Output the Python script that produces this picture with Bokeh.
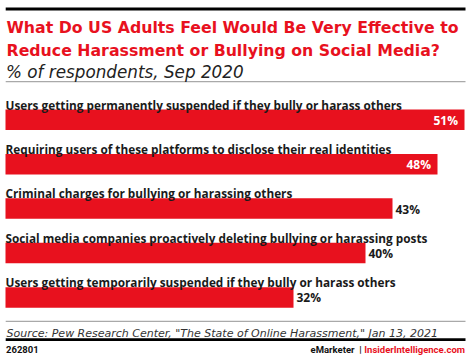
from bokeh.plotting import figure
from bokeh.models import Range1d
from bokeh.core.properties import value
from bokeh.embed import file_html
from bokeh.resources import INLINE

# ---- data ----
title_lines = ["What Do US Adults Feel Would Be Very Effective to",
               "Reduce Harassment or Bullying on Social Media?"]
subtitle = "% of respondents, Sep 2020"
categories = [
    "Users getting permanently suspended if they bully or harass others",
    "Requiring users of these platforms to disclose their real identities",
    "Criminal charges for bullying or harassing others",
    "Social media companies proactively deleting bullying or harassing posts",
    "Users getting temporarily suspended if they bully or harass others",
]
values = [51, 48, 43, 40, 32]
source = 'Source: Pew Research Center, "The State of Online Harassment," Jan 13, 2021'
chart_id = "262801"
brand_left = "eMarketer"
brand_right = "InsiderIntelligence.com"

# ---- layout / style ----
W, H = 470, 359
X0 = 5.0                      # pixel column where 0% sits
PX_PER_PCT = (464 - X0) / 51.0
RED = "#E8111E"
BAR0, STEP, BAR_H = 119.3, 44.4, 20.5
INSIDE_MIN = 45


def px(x):
    """pixel column -> data x"""
    return (x - X0) / PX_PER_PCT


XL, XR = px(0), px(W)
LEFT_EDGE, RIGHT_EDGE = px(5.2), px(465)

p = figure(width=W, height=H, x_range=Range1d(XL, XR), y_range=Range1d(H, 0),
           output_backend="svg", toolbar_location=None,
           x_axis_location=None, y_axis_location=None,
           min_border=0, outline_line_color=None,
           background_fill_color="white", border_fill_color="white")
p.grid.visible = False
p.title.visible = False

# horizontal rules: heavy black at top and above footer, thin grey below subtitle and above source
p.quad(left=[LEFT_EDGE] * 2, right=[RIGHT_EDGE] * 2, top=[7.0, 337.8], bottom=[10.0, 340.6],
       fill_color="black", fill_alpha=1.0, line_color=None)
p.quad(left=[LEFT_EDGE] * 2, right=[RIGHT_EDGE] * 2, top=[80.6, 320.2], bottom=[81.8, 321.4],
       fill_color="darkgray", fill_alpha=1.0, line_color=None)

# title & subtitle
p.text(x=[px(6), px(6)], y=[27.3, 50.0], text=title_lines, text_font=value("DejaVu Sans"),
       text_font_style="bold", text_font_size="15.75px", text_color=RED,
       text_baseline="alphabetic", text_align="left")
p.text(x=[px(5.5)], y=[71.3], text=[subtitle], text_font=value("DejaVu Sans"),
       text_font_style="italic", text_font_size="16.8px", text_color="#222222",
       text_baseline="alphabetic", text_align="left")

# bars
bar_y = [BAR0 + i * STEP for i in range(len(values))]
p.hbar(y=bar_y, left=0, right=values, height=BAR_H, fill_color=RED, line_color=None)

# category labels
p.text(x=[px(5)] * len(categories), y=[y - 15.3 for y in bar_y], text=categories,
       text_font=value("Open Sans"), text_font_style="bold", text_font_size="11.8px",
       text_color="#1a1a1a", text_baseline="alphabetic", text_align="left")

# value labels
ins = [i for i, v in enumerate(values) if v >= INSIDE_MIN]
outs = [i for i, v in enumerate(values) if v < INSIDE_MIN]
p.text(x=[values[i] - 6.5 / PX_PER_PCT for i in ins], y=[bar_y[i] + 0.5 for i in ins],
       text=[f"{values[i]}%" for i in ins], text_font=value("Open Sans"), text_font_style="bold",
       text_font_size="12px", text_color="white", text_baseline="middle", text_align="right")
p.text(x=[values[i] + 3 / PX_PER_PCT for i in outs], y=[bar_y[i] + 0.5 for i in outs],
       text=[f"{values[i]}%" for i in outs], text_font=value("Open Sans"), text_font_style="bold",
       text_font_size="12px", text_color="#1a1a1a", text_baseline="middle", text_align="left")

# source & footer
p.text(x=[px(6)], y=[332.7], text=[source], text_font=value("DejaVu Sans"),
       text_font_style="italic", text_font_size="11px", text_color="#333333",
       text_baseline="alphabetic", text_align="left")
p.text(x=[px(5.5)], y=[348.7], text=[chart_id], text_font=value("Roboto"),
       text_font_style="bold", text_font_size="9.5px", text_color="#111111",
       text_baseline="alphabetic", text_align="left")
p.text(x=[px(354)], y=[348.7], text=[brand_left], text_font=value("Roboto"),
       text_font_style="bold", text_font_size="9.5px", text_color="#111111",
       text_baseline="alphabetic", text_align="right")
p.text(x=[px(360)], y=[348.9], text=["|"], text_font=value("Roboto"),
       text_font_style="bold", text_font_size="9.5px", text_color="#111111",
       text_baseline="alphabetic", text_align="center")
p.text(x=[px(464.5)], y=[348.7], text=[brand_right], text_font=value("Roboto"),
       text_font_style="bold", text_font_size="9.5px", text_color=RED,
       text_baseline="alphabetic", text_align="right")

open("out.html", "w").write(file_html(p, INLINE))
